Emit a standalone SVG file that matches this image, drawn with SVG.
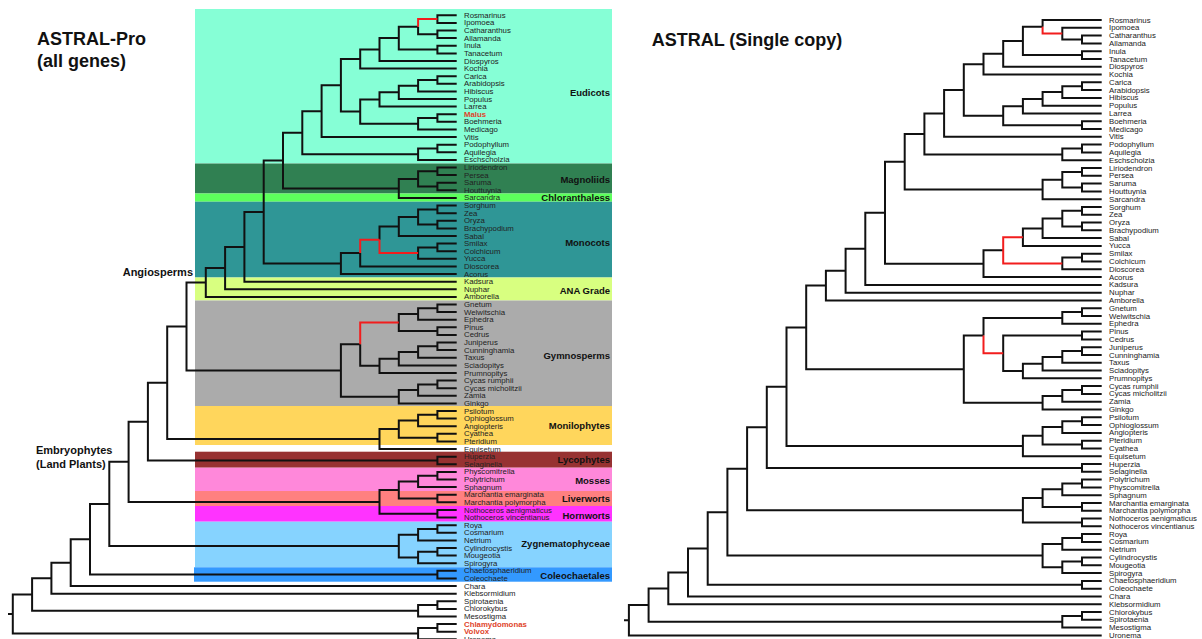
<svg xmlns="http://www.w3.org/2000/svg" width="1202" height="639" viewBox="0 0 1202 639">
<style>
.e{fill:none;stroke:#111;stroke-width:2;stroke-linejoin:miter;stroke-linecap:butt}
.r{fill:none;stroke:#f21d1d;stroke-width:2}
.lf{font-family:"Liberation Sans",Arial,sans-serif;font-size:7.8px;fill:#222;dominant-baseline:central}
.red{fill:#e0442a;font-weight:bold}
.cl{font-family:"Liberation Sans",Arial,sans-serif;font-size:9.5px;font-weight:bold;fill:#111;text-anchor:end;dominant-baseline:central}
.tt{font-family:"Liberation Sans",Arial,sans-serif;font-size:18px;font-weight:bold;fill:#111}
.gl{font-family:"Liberation Sans",Arial,sans-serif;font-size:11px;font-weight:bold;fill:#111}
</style>
<rect width="1202" height="639" fill="#fff"/>
<g id="bands">
<g id="Eudicots"><rect x="195" y="9" width="417" height="154.5" fill="#86FFD6"/><text class="cl" x="610" y="92.3">Eudicots</text></g>
<g id="Magnoliids"><rect x="195" y="163.5" width="417" height="30" fill="#308052"/><text class="cl" x="610" y="179">Magnoliids</text></g>
<g id="Chloranthaless"><rect x="195" y="193.5" width="417" height="8.2" fill="#5CFF5C"/><text class="cl" x="610" y="197.7">Chloranthaless</text></g>
<g id="Monocots"><rect x="195" y="201.7" width="417" height="75.8" fill="#2F9696"/><text class="cl" x="610" y="242.7">Monocots</text></g>
<g id="ANAGrade"><rect x="195" y="277.5" width="417" height="23" fill="#D8FF80"/><text class="cl" x="610" y="290">ANA Grade</text></g>
<g id="Gymnosperms"><rect x="195" y="300.5" width="417" height="105.5" fill="#ABABAB"/><text class="cl" x="610" y="355">Gymnosperms</text></g>
<g id="Monilophytes"><rect x="195" y="406" width="417" height="39" fill="#FFD65C"/><text class="cl" x="610" y="425">Monilophytes</text></g>
<g id="Lycophytes"><rect x="195" y="451.7" width="417" height="16" fill="#973232"/><text class="cl" x="610" y="459">Lycophytes</text></g>
<g id="Mosses"><rect x="195" y="467.7" width="417" height="23.3" fill="#FF88DA"/><text class="cl" x="610" y="480">Mosses</text></g>
<g id="Liverworts"><rect x="195" y="491" width="417" height="15" fill="#FF8080"/><text class="cl" x="610" y="498.7">Liverworts</text></g>
<g id="Hornworts"><rect x="195" y="506" width="417" height="15.7" fill="#FF33FF"/><text class="cl" x="610" y="515.7">Hornworts</text></g>
<g id="Zygnematophyceae"><rect x="195" y="521.7" width="417" height="45.6" fill="#86D3FF"/><text class="cl" x="610" y="543.3">Zygnematophyceae</text></g>
<g id="Coleochaetales"><rect x="194" y="567.3" width="418" height="14.4" fill="#3399FF"/><text class="cl" x="610" y="575">Coleochaetales</text></g>
</g>
<g id="titles">
<text class="tt" x="37" y="45">ASTRAL-Pro</text>
<text class="tt" x="37" y="67">(all genes)</text>
<text class="tt" x="651.7" y="46">ASTRAL (Single copy)</text>
<text class="gl" x="193" y="276" text-anchor="end">Angiosperms</text>
<text class="gl" x="36" y="454">Embryophytes</text>
<text class="gl" x="36" y="468">(Land Plants)</text>
</g>
<g id="connectors">
<g id="left-tree">
<path class="e" d="M456.7 15.3H437.4V22.9H456.7 M456.7 30.5H437.4V38.1H456.7 M418.1 26.7V34.3H437.4 M456.7 45.7H437.4V53.4H456.7 M418.1 26.7H398.8V49.55H437.4 M398.8 38.1H379.5V61H456.7 M379.5 49.55H360.2V68.6H456.7 M456.7 76.2H437.4V83.8H456.7 M437.4 80H418.1V91.4H456.7 M418.1 85.7H398.8V99H456.7 M398.8 92.35H379.5V106.6H456.7 M456.7 114.2H437.4V121.8H456.7 M437.4 118H418.1V129.45H456.7 M379.5 99.5H360.2V123.7H418.1 M360.2 59.1H340.9V111.6H360.2 M340.9 85.35H321.6V137.1H456.7 M456.7 144.7H437.4V152.3H456.7 M437.4 148.5H418.1V159.9H456.7 M321.6 111.2H302.3V154.2H418.1"/>
<path class="r" d="M437.4 19.1H418.1V26.7"/>
<path class="e" d="M456.7 167.5H437.4V175.1H456.7 M456.7 182.7H437.4V190.3H456.7 M437.4 171.3H418.1V186.5H437.4 M418.1 178.9H398.8V197.9H456.7 M302.3 132.7H283V188.4H398.8"/>
<path class="e" d="M456.7 205.55H437.4V213.2H456.7 M456.7 220.8H437.4V228.4H456.7 M437.4 209.4H418.1V224.6H437.4 M418.1 217H398.8V236H456.7 M456.7 243.6H437.4V251.2H456.7 M437.4 247.4H418.1V258.8H456.7 M398.8 226.5H379.5V239.8 M360.2 253.1V266.4H456.7 M360.2 253.1H340.9V274H456.7 M283 160.55H263.7V263.6H340.9 M263.7 212.1H244.4V281.65H456.7 M244.4 246.9H225.1V289.3H456.7 M225.1 268.1H205.8V296.9H456.7"/>
<path class="r" d="M379.5 239.8V253.1H418.1 M379.5 239.8H360.2V253.1"/>
<path class="e" d="M456.7 304.5H437.4V312.1H456.7 M437.4 308.3H418.1V319.7H456.7 M456.7 327.3H437.4V334.9H456.7 M418.1 314H398.8V331.1H437.4 M456.7 342.5H437.4V350.1H456.7 M437.4 346.3H418.1V357.75H456.7 M418.1 352H398.8V365.4H456.7 M398.8 358.7H379.5V373H456.7 M360.2 344.2V365.85H379.5 M456.7 380.6H437.4V388.2H456.7 M437.4 384.4H418.1V395.8H456.7 M418.1 390.1H398.8V403.4H456.7 M360.2 344.2H340.9V396.75H398.8 M205.8 282.5H186.5V370.5H340.9"/>
<path class="r" d="M398.8 322.55H360.2V344.2"/>
<path class="e" d="M456.7 411H437.4V418.6H456.7 M437.4 414.8H418.1V426.2H456.7 M456.7 433.85H437.4V441.5H456.7 M418.1 420.5H398.8V437.7H437.4 M398.8 429.1H379.5V449.1H456.7 M186.5 326.5H167.2V439.1H379.5 M456.7 456.7H437.4V464.3H456.7 M167.2 382.8H147.9V460.5H437.4"/>
<path class="e" d="M456.7 471.9H437.4V479.5H456.7 M437.4 475.7H418.1V487.1H456.7 M456.7 494.7H437.4V502.3H456.7 M418.1 481.4H398.8V498.5H437.4 M456.7 509.95H437.4V517.6H456.7 M398.8 489.95H379.5V513.8H437.4 M147.9 421.65H128.6V501.9H379.5"/>
<path class="e" d="M456.7 525.2H437.4V532.8H456.7 M437.4 529H418.1V540.4H456.7 M456.7 548H437.4V555.6H456.7 M437.4 551.8H418.1V563.2H456.7 M418.1 534.7H398.8V557.5H418.1 M128.6 461.8H109.3V546.1H398.8 M456.7 570.8H437.4V578.4H456.7 M109.3 503.95H90V574.6H437.4 M90 539.3H70.7V586.05H456.7 M70.7 562.7H51.4V593.7H456.7 M456.7 601.3H437.4V608.9H456.7 M437.4 605.1H418.1V616.5H456.7 M51.4 578.2H32.1V610.8H418.1 M456.7 624.1H437.4V631.7H456.7 M437.4 627.9H418.1V639.3H456.7 M32.1 594.5H12.8V633.6H418.1 M8 614.05H12.8"/>
</g>
<g id="right-tree">
<path class="e" d="M1101.7 35.6H1082V43.4H1101.7 M1101.7 27.8H1062.3V39.5H1082 M1101.7 20H1042.6V26.8 M1101.7 51.2H1082V59H1101.7 M1042.6 26.8H1022.9V55.05H1082 M1022.9 40.9H1003.2V66.7H1101.7 M1003.2 53.8H983.5V74.5H1101.7 M1101.7 82.3H1082V90.1H1101.7 M1082 86.2H1062.3V97.9H1101.7 M1062.3 92.05H1042.6V105.7H1101.7 M1042.6 98.9H1022.9V113.5H1101.7 M1101.7 121.3H1082V129.1H1101.7 M1022.9 106.2H1003.2V125.2H1082 M983.5 64.2H963.8V115.7H1003.2 M963.8 89.95H944.1V136.85H1101.7 M1101.7 144.6H1082V152.4H1101.7 M1082 148.5H1062.3V160.2H1101.7 M944.1 113.4H924.4V154.4H1062.3"/>
<path class="r" d="M1042.6 26.8V33.6H1062.3"/>
<path class="e" d="M1101.7 168H1082V175.8H1101.7 M1101.7 183.6H1082V191.4H1101.7 M1082 171.9H1062.3V187.5H1082 M1062.3 179.7H1042.6V199.2H1101.7 M924.4 133.9H904.7V189.4H1042.6"/>
<path class="e" d="M1101.7 207H1082V214.75H1101.7 M1101.7 222.5H1082V230.3H1101.7 M1082 210.85H1062.3V226.4H1082 M1062.3 218.6H1042.6V238.1H1101.7 M1042.6 228.4H1022.9V245.9H1101.7 M1101.7 253.7H1082V261.5H1101.7 M1082 257.6H1062.3V269.3H1101.7 M1003.2 250.3H983.5V277.1H1101.7 M904.7 161.65H885V263.7H983.5 M885 212.7H865.3V284.9H1101.7 M865.3 248.8H845.6V292.65H1101.7 M845.6 270.7H825.9V300.4H1101.7"/>
<path class="r" d="M1022.9 237.15H1003.2V263.4H1062.3"/>
<path class="e" d="M1101.7 308.2H1082V316H1101.7 M1082 312.1H1062.3V323.8H1101.7 M1101.7 331.6H1082V339.4H1101.7 M1101.7 347.2H1082V355H1101.7 M1082 351.1H1062.3V362.8H1101.7 M1062.3 356.9H1042.6V370.55H1101.7 M1042.6 363.7H1022.9V378.3H1101.7 M1082 335.5H1003.2V371H1022.9 M1062.3 317.95H983.5V335.6 M1101.7 386.1H1082V393.9H1101.7 M1082 390H1062.3V401.7H1101.7 M1062.3 395.9H1042.6V409.5H1101.7 M983.5 335.6H963.8V402.7H1042.6 M825.9 285.6H806.2V369.15H963.8"/>
<path class="r" d="M983.5 335.6V353.25H1003.2"/>
<path class="e" d="M1101.7 417.3H1082V425.1H1101.7 M1082 421.2H1062.3V432.9H1101.7 M1101.7 440.7H1082V448.45H1101.7 M1062.3 427H1042.6V444.55H1082 M1042.6 435.8H1022.9V456.2H1101.7 M806.2 327.4H786.5V446H1022.9 M1101.7 464H1082V471.8H1101.7 M786.5 386.7H766.8V467.9H1082"/>
<path class="e" d="M1101.7 479.6H1082V487.4H1101.7 M1082 483.5H1062.3V495.2H1101.7 M1101.7 503H1082V510.8H1101.7 M1062.3 489.35H1042.6V506.9H1082 M1101.7 518.6H1082V526.35H1101.7 M1042.6 498.1H1022.9V522.45H1082 M766.8 427.3H747.1V510.3H1022.9"/>
<path class="e" d="M1101.7 534.1H1082V541.9H1101.7 M1082 538H1062.3V549.7H1101.7 M1101.7 557.5H1082V565.3H1101.7 M1082 561.4H1062.3V573.1H1101.7 M1062.3 543.9H1042.6V567.25H1062.3 M747.1 468.8H727.4V555.6H1042.6 M1101.7 580.9H1082V588.7H1101.7 M727.4 512.2H707.7V584.8H1082 M707.7 548.5H688V596.5H1101.7 M688 572.5H668.3V604.25H1101.7 M1101.7 612H1082V619.8H1101.7 M1082 615.9H1062.3V627.6H1101.7 M668.3 588.4H648.6V621.8H1062.3 M648.6 605.1H628.9V635.4H1101.7 M624 620.3H628.9"/>
</g>
</g>
<g id="left-leaves" class="lf">
<text class="lf" x="464" y="15.3">Rosmarinus</text>
<text class="lf" x="464" y="22.9">Ipomoea</text>
<text class="lf" x="464" y="30.5">Catharanthus</text>
<text class="lf" x="464" y="38.1">Allamanda</text>
<text class="lf" x="464" y="45.7">Inula</text>
<text class="lf" x="464" y="53.4">Tanacetum</text>
<text class="lf" x="464" y="61">Diospyros</text>
<text class="lf" x="464" y="68.6">Kochia</text>
<text class="lf" x="464" y="76.2">Carica</text>
<text class="lf" x="464" y="83.8">Arabidopsis</text>
<text class="lf" x="464" y="91.4">Hibiscus</text>
<text class="lf" x="464" y="99">Populus</text>
<text class="lf" x="464" y="106.6">Larrea</text>
<text class="lf red" x="464" y="114.2">Malus</text>
<text class="lf" x="464" y="121.8">Boehmeria</text>
<text class="lf" x="464" y="129.5">Medicago</text>
<text class="lf" x="464" y="137.1">Vitis</text>
<text class="lf" x="464" y="144.7">Podophyllum</text>
<text class="lf" x="464" y="152.3">Aquilegia</text>
<text class="lf" x="464" y="159.9">Eschscholzia</text>
<text class="lf" x="464" y="167.5">Liriodendron</text>
<text class="lf" x="464" y="175.1">Persea</text>
<text class="lf" x="464" y="182.7">Saruma</text>
<text class="lf" x="464" y="190.3">Houttuynia</text>
<text class="lf" x="464" y="197.9">Sarcandra</text>
<text class="lf" x="464" y="205.6">Sorghum</text>
<text class="lf" x="464" y="213.2">Zea</text>
<text class="lf" x="464" y="220.8">Oryza</text>
<text class="lf" x="464" y="228.4">Brachypodium</text>
<text class="lf" x="464" y="236">Sabal</text>
<text class="lf" x="464" y="243.6">Smilax</text>
<text class="lf" x="464" y="251.2">Colchicum</text>
<text class="lf" x="464" y="258.8">Yucca</text>
<text class="lf" x="464" y="266.4">Dioscorea</text>
<text class="lf" x="464" y="274">Acorus</text>
<text class="lf" x="464" y="281.7">Kadsura</text>
<text class="lf" x="464" y="289.3">Nuphar</text>
<text class="lf" x="464" y="296.9">Amborella</text>
<text class="lf" x="464" y="304.5">Gnetum</text>
<text class="lf" x="464" y="312.1">Welwitschia</text>
<text class="lf" x="464" y="319.7">Ephedra</text>
<text class="lf" x="464" y="327.3">Pinus</text>
<text class="lf" x="464" y="334.9">Cedrus</text>
<text class="lf" x="464" y="342.5">Juniperus</text>
<text class="lf" x="464" y="350.1">Cunninghamia</text>
<text class="lf" x="464" y="357.8">Taxus</text>
<text class="lf" x="464" y="365.4">Sciadopitys</text>
<text class="lf" x="464" y="373">Prumnopitys</text>
<text class="lf" x="464" y="380.6">Cycas rumphii</text>
<text class="lf" x="464" y="388.2">Cycas micholitzii</text>
<text class="lf" x="464" y="395.8">Zamia</text>
<text class="lf" x="464" y="403.4">Ginkgo</text>
<text class="lf" x="464" y="411">Psilotum</text>
<text class="lf" x="464" y="418.6">Ophioglossum</text>
<text class="lf" x="464" y="426.2">Angiopteris</text>
<text class="lf" x="464" y="433.9">Cyathea</text>
<text class="lf" x="464" y="441.5">Pteridium</text>
<text class="lf" x="464" y="449.1">Equisetum</text>
<text class="lf" x="464" y="456.7">Huperzia</text>
<text class="lf" x="464" y="464.3">Selaginella</text>
<text class="lf" x="464" y="471.9">Physcomitrella</text>
<text class="lf" x="464" y="479.5">Polytrichum</text>
<text class="lf" x="464" y="487.1">Sphagnum</text>
<text class="lf" x="464" y="494.7">Marchantia emarginata</text>
<text class="lf" x="464" y="502.3">Marchantia polymorpha</text>
<text class="lf" x="464" y="510">Nothoceros aenigmaticus</text>
<text class="lf" x="464" y="517.6">Nothoceros vincentianus</text>
<text class="lf" x="464" y="525.2">Roya</text>
<text class="lf" x="464" y="532.8">Cosmarium</text>
<text class="lf" x="464" y="540.4">Netrium</text>
<text class="lf" x="464" y="548">Cylindrocystis</text>
<text class="lf" x="464" y="555.6">Mougeotia</text>
<text class="lf" x="464" y="563.2">Spirogyra</text>
<text class="lf" x="464" y="570.8">Chaetosphaeridium</text>
<text class="lf" x="464" y="578.4">Coleochaete</text>
<text class="lf" x="464" y="586.1">Chara</text>
<text class="lf" x="464" y="593.7">Klebsormidium</text>
<text class="lf" x="464" y="601.3">Spirotaenia</text>
<text class="lf" x="464" y="608.9">Chlorokybus</text>
<text class="lf" x="464" y="616.5">Mesostigma</text>
<text class="lf red" x="464" y="624.1">Chlamydomonas</text>
<text class="lf red" x="464" y="631.7">Volvox</text>
<text class="lf" x="464" y="639.3">Uronema</text>
</g>
<g id="right-leaves">
<text class="lf" x="1109" y="20">Rosmarinus</text>
<text class="lf" x="1109" y="27.8">Ipomoea</text>
<text class="lf" x="1109" y="35.6">Catharanthus</text>
<text class="lf" x="1109" y="43.4">Allamanda</text>
<text class="lf" x="1109" y="51.2">Inula</text>
<text class="lf" x="1109" y="59">Tanacetum</text>
<text class="lf" x="1109" y="66.7">Diospyros</text>
<text class="lf" x="1109" y="74.5">Kochia</text>
<text class="lf" x="1109" y="82.3">Carica</text>
<text class="lf" x="1109" y="90.1">Arabidopsis</text>
<text class="lf" x="1109" y="97.9">Hibiscus</text>
<text class="lf" x="1109" y="105.7">Populus</text>
<text class="lf" x="1109" y="113.5">Larrea</text>
<text class="lf" x="1109" y="121.3">Boehmeria</text>
<text class="lf" x="1109" y="129.1">Medicago</text>
<text class="lf" x="1109" y="136.9">Vitis</text>
<text class="lf" x="1109" y="144.6">Podophyllum</text>
<text class="lf" x="1109" y="152.4">Aquilegia</text>
<text class="lf" x="1109" y="160.2">Eschscholzia</text>
<text class="lf" x="1109" y="168">Liriodendron</text>
<text class="lf" x="1109" y="175.8">Persea</text>
<text class="lf" x="1109" y="183.6">Saruma</text>
<text class="lf" x="1109" y="191.4">Houttuynia</text>
<text class="lf" x="1109" y="199.2">Sarcandra</text>
<text class="lf" x="1109" y="207">Sorghum</text>
<text class="lf" x="1109" y="214.8">Zea</text>
<text class="lf" x="1109" y="222.5">Oryza</text>
<text class="lf" x="1109" y="230.3">Brachypodium</text>
<text class="lf" x="1109" y="238.1">Sabal</text>
<text class="lf" x="1109" y="245.9">Yucca</text>
<text class="lf" x="1109" y="253.7">Smilax</text>
<text class="lf" x="1109" y="261.5">Colchicum</text>
<text class="lf" x="1109" y="269.3">Dioscorea</text>
<text class="lf" x="1109" y="277.1">Acorus</text>
<text class="lf" x="1109" y="284.9">Kadsura</text>
<text class="lf" x="1109" y="292.7">Nuphar</text>
<text class="lf" x="1109" y="300.4">Amborella</text>
<text class="lf" x="1109" y="308.2">Gnetum</text>
<text class="lf" x="1109" y="316">Welwitschia</text>
<text class="lf" x="1109" y="323.8">Ephedra</text>
<text class="lf" x="1109" y="331.6">Pinus</text>
<text class="lf" x="1109" y="339.4">Cedrus</text>
<text class="lf" x="1109" y="347.2">Juniperus</text>
<text class="lf" x="1109" y="355">Cunninghamia</text>
<text class="lf" x="1109" y="362.8">Taxus</text>
<text class="lf" x="1109" y="370.6">Sciadopitys</text>
<text class="lf" x="1109" y="378.3">Prumnopitys</text>
<text class="lf" x="1109" y="386.1">Cycas rumphii</text>
<text class="lf" x="1109" y="393.9">Cycas micholitzii</text>
<text class="lf" x="1109" y="401.7">Zamia</text>
<text class="lf" x="1109" y="409.5">Ginkgo</text>
<text class="lf" x="1109" y="417.3">Psilotum</text>
<text class="lf" x="1109" y="425.1">Ophioglossum</text>
<text class="lf" x="1109" y="432.9">Angiopteris</text>
<text class="lf" x="1109" y="440.7">Pteridium</text>
<text class="lf" x="1109" y="448.5">Cyathea</text>
<text class="lf" x="1109" y="456.2">Equisetum</text>
<text class="lf" x="1109" y="464">Huperzia</text>
<text class="lf" x="1109" y="471.8">Selaginella</text>
<text class="lf" x="1109" y="479.6">Polytrichum</text>
<text class="lf" x="1109" y="487.4">Physcomitrella</text>
<text class="lf" x="1109" y="495.2">Sphagnum</text>
<text class="lf" x="1109" y="503">Marchantia emarginata</text>
<text class="lf" x="1109" y="510.8">Marchantia polymorpha</text>
<text class="lf" x="1109" y="518.6">Nothoceros aenigmaticus</text>
<text class="lf" x="1109" y="526.4">Nothoceros vincentianus</text>
<text class="lf" x="1109" y="534.1">Roya</text>
<text class="lf" x="1109" y="541.9">Cosmarium</text>
<text class="lf" x="1109" y="549.7">Netrium</text>
<text class="lf" x="1109" y="557.5">Cylindrocystis</text>
<text class="lf" x="1109" y="565.3">Mougeotia</text>
<text class="lf" x="1109" y="573.1">Spirogyra</text>
<text class="lf" x="1109" y="580.9">Chaetosphaeridium</text>
<text class="lf" x="1109" y="588.7">Coleochaete</text>
<text class="lf" x="1109" y="596.5">Chara</text>
<text class="lf" x="1109" y="604.3">Klebsormidium</text>
<text class="lf" x="1109" y="612">Chlorokybus</text>
<text class="lf" x="1109" y="619.8">Spirotaenia</text>
<text class="lf" x="1109" y="627.6">Mesostigma</text>
<text class="lf" x="1109" y="635.4">Uronema</text>
</g>
</svg>
